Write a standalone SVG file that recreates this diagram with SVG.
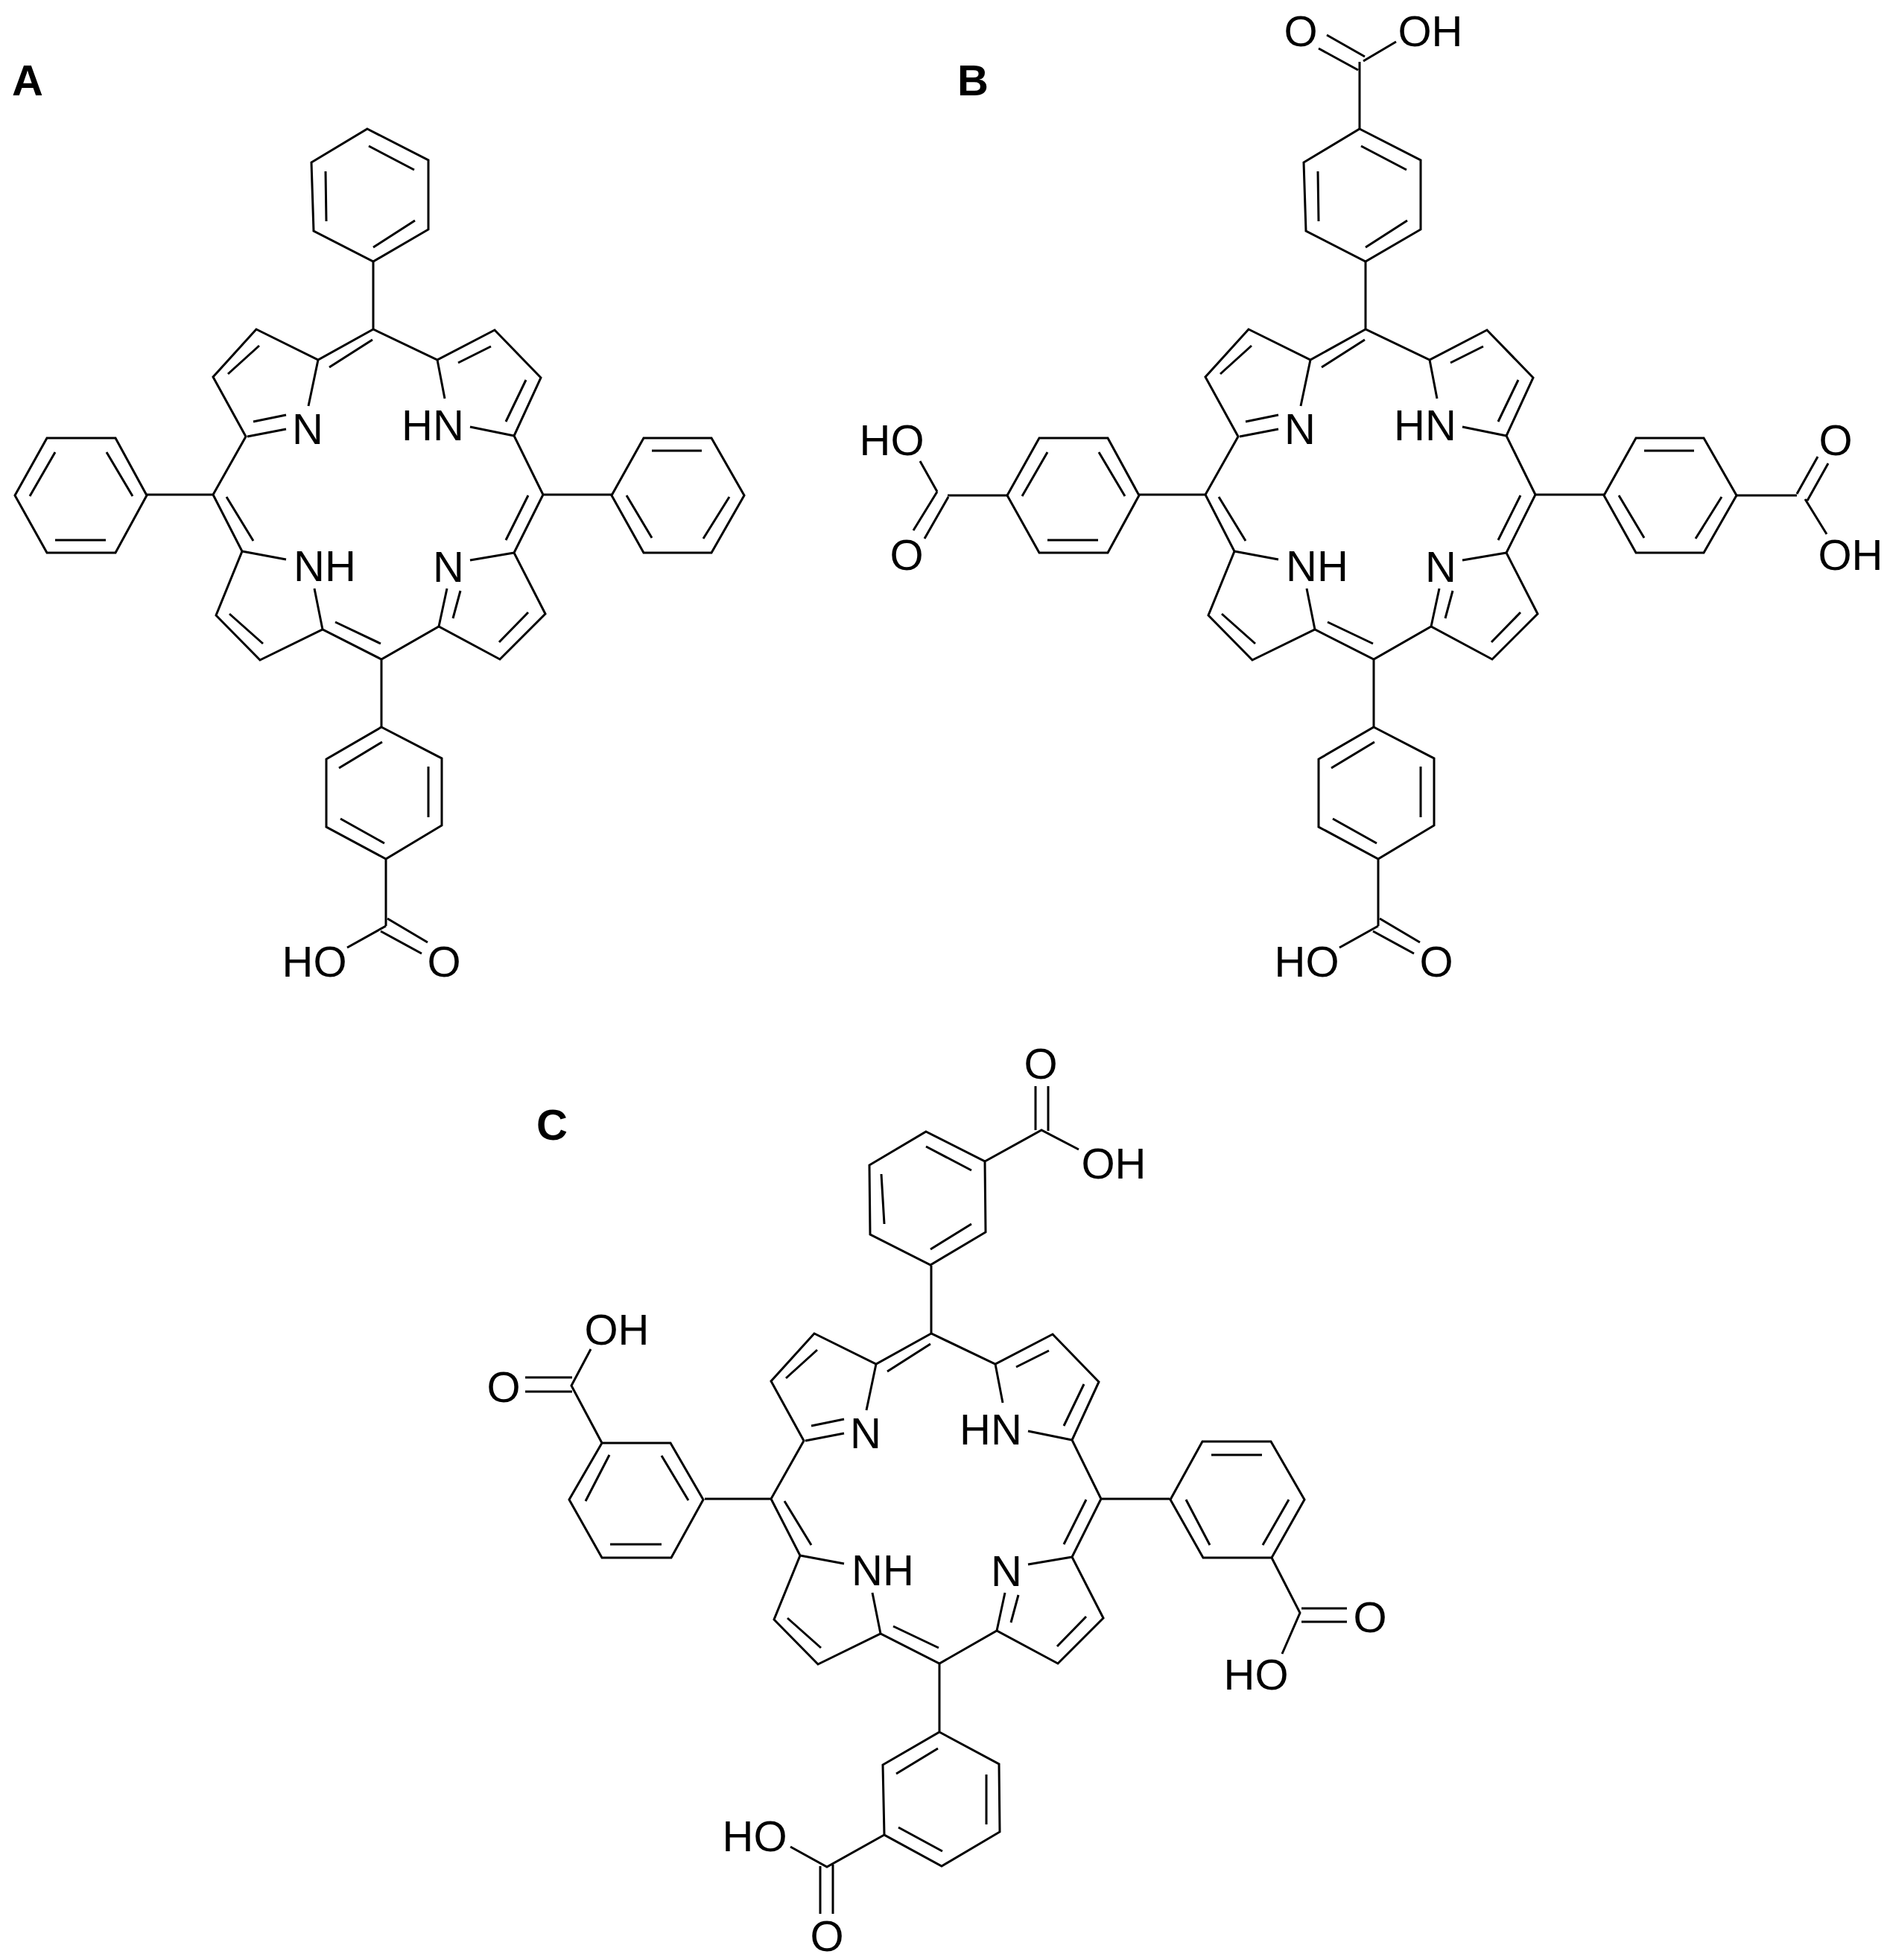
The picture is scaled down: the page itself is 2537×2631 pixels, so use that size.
<svg xmlns="http://www.w3.org/2000/svg" xmlns:xlink="http://www.w3.org/1999/xlink" width="2537" height="2631" viewBox="0 0 2537 2631">
<style>
.b{fill:none;stroke:#000;stroke-width:3;stroke-linejoin:miter}
text{font-family:"Liberation Sans",Arial,sans-serif;font-size:58px;fill:#000;text-anchor:middle}
.p{font-weight:bold}
</style>
<defs>
<path id="core" class="b" d="M501 442L427 483L344 442L286 506L330 586L286 664L325 740L290 826L349 886L433 845L512 885L589 841L671 885L732 824L690 742L729 664L690 585L726 507L664 443L587 483ZM427 483L414 545M332 586L384 576M340 566L384 557M587 483L597 535M690 585L631 573M325 740L384 751M433 845L422 790M589 841L600 790M608 830L618 793M690 742L631 752M500 456L442 493M659 465L615 487M348 464L306 502M679 566L706 510M304 667L340 726M308 824L353 864M450 835L511 864M670 862L709 822M679 725L709 665M501 442L501 351M286 664L197 664M729 664L821 664M512 885L512 976"/>
<path id="ph-top" class="b" d="M493 173L575 215L575 308L501 351L421 310L418 218ZM495 196L556 228L556 228M437 230L438 297M557 296L501 332"/>
<path id="ph-left" class="b" d="M197 665L155 588L63 588L20 665L63 742L155 742ZM74 607L40 666M143 607L178 666M74 725L142 725"/>
<path id="ph-right" class="b" d="M821 665L864 588L955 588L999 665L955 742L864 742ZM875 605L942 605M841 665L875 722M979 667L944 723"/>
<path id="ph-bottom" class="b" d="M512 976L593 1018L593 1108L518 1153L438 1110L438 1019ZM513 996L455 1031M575 1029L575 1097M457 1099L516 1132M518 1153L518 1243"/>
</defs>
<rect width="2537" height="2631" fill="#fff"/>

<g id="molecule-A">
<text class="p" x="37" y="128">A</text>
<g id="A-core"><use xlink:href="#core" href="#core"/>
<text x="413" y="596">N</text><text x="581" y="591">HN</text><text x="436" y="780">NH</text><text x="602" y="781">N</text></g>
<g id="A-phenyl-top"><use href="#ph-top"/></g>
<g id="A-phenyl-left"><use href="#ph-left"/></g>
<g id="A-phenyl-right"><use href="#ph-right"/></g>
<g id="A-aryl-bottom"><use href="#ph-bottom"/>
<path class="b" d="M518 1243L466 1272M520 1233L574 1265M511 1250L566 1280"/>
<text x="422" y="1311">HO</text><text x="596" y="1311">O</text></g>
</g>

<g id="molecule-B">
<text class="p" x="1306" y="128">B</text>
<g id="B-core" transform="translate(1332 0)"><use href="#core"/>
<text x="413" y="596">N</text><text x="581" y="591">HN</text><text x="436" y="780">NH</text><text x="602" y="781">N</text></g>
<g id="B-aryl-top"><use href="#ph-top" transform="translate(1332 0)"/>
<path class="b" d="M1825 173L1825 83M1781 47L1832 76M1770 65L1823 94M1830 82L1874 56"/>
<text x="1746" y="62">O</text><text x="1920" y="62">OH</text></g>
<g id="B-aryl-left"><use href="#ph-left" transform="translate(1332 0)"/>
<path class="b" d="M1352 665L1272 665M1235 619L1258 660M1258 660L1226 712M1273 667L1241 723"/>
<text x="1197" y="611">HO</text><text x="1217" y="765">O</text></g>
<g id="B-aryl-right"><use href="#ph-right" transform="translate(1332 0)"/>
<path class="b" d="M2331 665L2412 665M2412 663L2440 613M2426 672L2454 622M2423 670L2452 717"/>
<text x="2464" y="611">O</text><text x="2484" y="765">OH</text></g>
<g id="B-aryl-bottom"><use href="#ph-bottom" transform="translate(1332 0)"/>
<path class="b" d="M1850 1243L1798 1272M1852 1233L1906 1265M1843 1250L1898 1280"/>
<text x="1754" y="1311">HO</text><text x="1928" y="1311">O</text></g>
</g>

<g id="molecule-C">
<text class="p" x="741" y="1530">C</text>
<g id="C-core" transform="translate(749 1348)"><use href="#core"/>
<text x="413" y="596">N</text><text x="581" y="591">HN</text><text x="436" y="780">NH</text><text x="602" y="781">N</text></g>
<g id="C-aryl-top">
<path class="b" d="M1243 1519L1322 1559L1323 1654L1249 1698L1168 1657L1167 1564ZM1243 1539L1304 1571M1183 1576L1187 1643M1249 1677L1304 1643M1322 1559L1398 1517L1448 1543M1390 1458L1390 1517M1407 1458L1407 1518"/>
<text x="1397" y="1448">O</text><text x="1495" y="1582">OH</text></g>
<g id="C-aryl-left">
<path class="b" d="M944 2013L900 1937L808 1937L764 2013L808 2091L901 2091ZM888 1954L924 2014M818 1953L786 2015M819 2073L888 2073M808 1937L767 1860L793 1811M705 1849L768 1849M705 1868L768 1868"/>
<text x="676" y="1882">O</text><text x="828" y="1805">OH</text></g>
<g id="C-aryl-right">
<path class="b" d="M1571 2013L1614 1935L1706 1935L1751 2013L1707 2091L1615 2091ZM1626 1953L1694 1953M1592 2013L1624 2074M1730 2013L1695 2074M1707 2091L1745 2165L1721 2220M1747 2159L1808 2159M1747 2177L1808 2177"/>
<text x="1839" y="2191">O</text><text x="1686" y="2268">HO</text></g>
<g id="C-aryl-bottom">
<path class="b" d="M1261 2325L1341 2368L1342 2459L1264 2505L1187 2463L1185 2369ZM1259 2347L1203 2381M1324 2382L1324 2449M1206 2453L1265 2485M1187 2463L1110 2506L1061 2479M1101 2505L1101 2569M1118 2503L1118 2569"/>
<text x="1013" y="2485">HO</text><text x="1110" y="2619">O</text></g>
</g>
</svg>
